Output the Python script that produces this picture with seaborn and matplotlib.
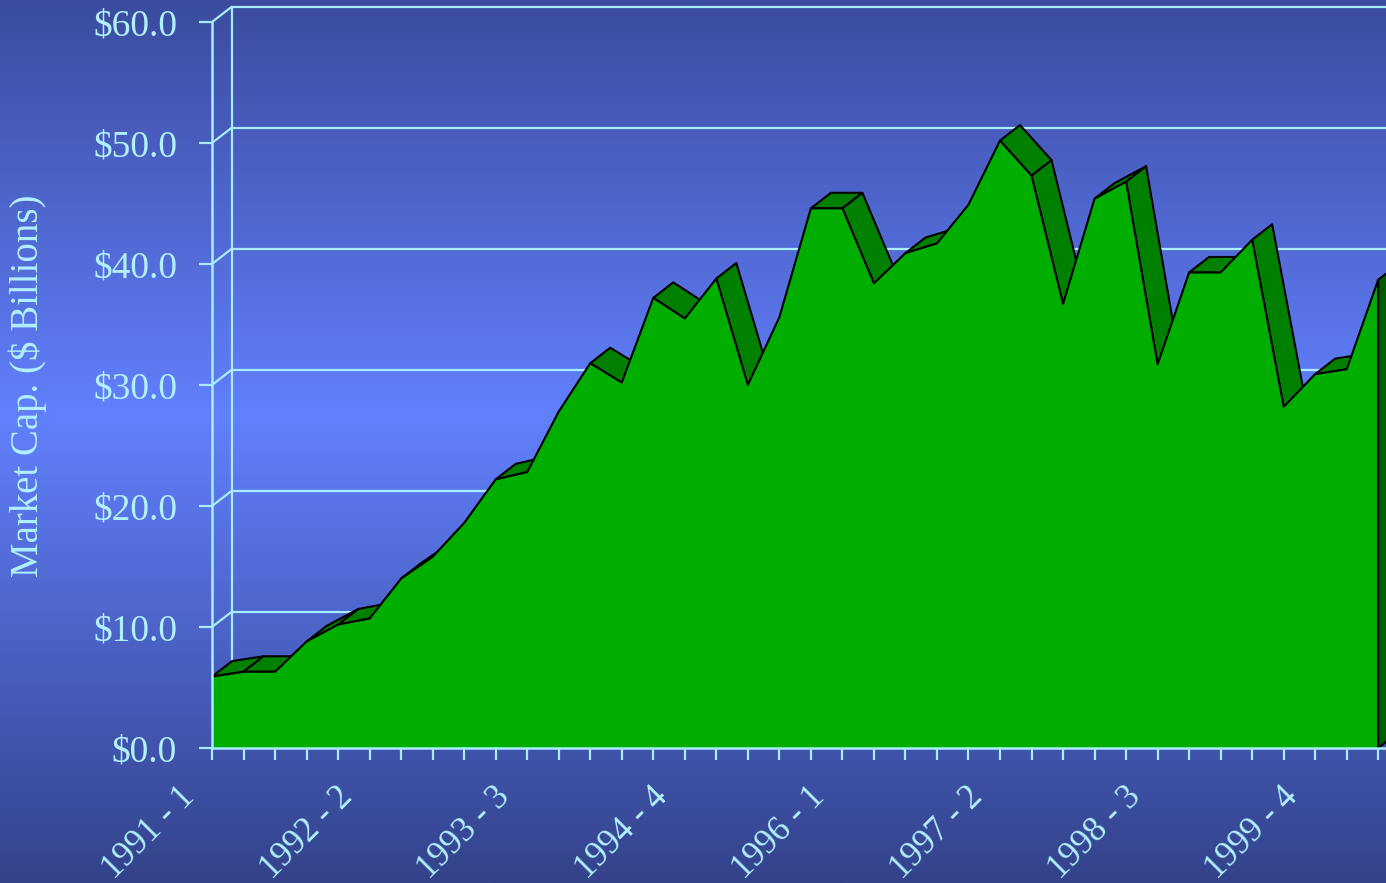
import numpy as np
import matplotlib
matplotlib.use("Agg")
import matplotlib.pyplot as plt
import matplotlib.transforms as mtransforms
from matplotlib.colors import LinearSegmentedColormap
import seaborn as sns

# Quarterly market capitalisation, $ billions (1991 Q1 .. 2000 Q2)
years = [1991, 1992, 1993, 1994, 1995, 1996, 1997, 1998, 1999, 2000]
quarters_per_year = 4
market_cap = [5.9, 6.3, 6.3, 8.8, 10.2, 10.7, 14.0, 15.8, 18.6, 22.2,
              22.8, 27.8, 31.8, 30.2, 37.2, 35.5, 38.8, 30.0, 35.6, 44.6,
              44.6, 38.4, 40.9, 41.7, 44.9, 50.2, 47.3, 36.7, 45.4, 46.8,
              31.7, 39.3, 39.3, 42.0, 28.2, 30.9, 31.3, 38.7]
y_ticks = [0, 10, 20, 30, 40, 50, 60]
label_every = 5

n = len(market_cap)
categories = [f"{years[i // quarters_per_year]} - {i % quarters_per_year + 1}" for i in range(n)]
idx = np.arange(n)
vals = np.array(market_cap, dtype=float)

# ---- style ----
sns.set_theme(style="ticks")
plt.rcParams["font.family"] = ["Liberation Serif", "DejaVu Serif"]
TXT = "#b0f0ff"
LINE = "#a8ecff"
FRONT = "#00ae00"
TOP = "#008000"
SIDE = "#005c00"

W, H, DPI = 1386, 883, 100
fig = plt.figure(figsize=(W / DPI, H / DPI), dpi=DPI)

# background gradient
bg = fig.add_axes([0, 0, 1, 1], zorder=-10)
cmap = LinearSegmentedColormap.from_list(
    "bg", [(0.0, "#3b4c9e"), (0.47, "#6280fd"), (1.0, "#33428a")])
grad = np.linspace(0, 1, 512).reshape(-1, 1)
bg.imshow(grad, aspect="auto", cmap=cmap, extent=[0, 1, 0, 1], origin="upper")
bg.set_axis_off()

# plotting area in pixels
x0_px, y0_px = 212, 748          # origin (value 0 of first quarter)
px_per_cat, px_per_unit = 31.52, 12.1
ax = fig.add_axes([x0_px / W, (H - y0_px) / H, (W - x0_px) / W, y0_px / H])
ax.set_facecolor("none")
ax.set_xlim(0, (W - x0_px) / px_per_cat)
ax.set_ylim(0, y0_px / px_per_unit)

# depth offset of the 3-D box, in data units
dx = 20 / px_per_cat
dy = 15.5 / px_per_unit
xmax = ax.get_xlim()[1] + 2

# back wall, side wall and gridlines
ax.plot([dx, dx], [dy, y_ticks[-1] + dy], color=LINE, lw=1.6, zorder=1)
for t in y_ticks:
    ax.plot([0, dx], [t, t + dy], color=LINE, lw=1.6, zorder=1, solid_capstyle="butt")
    if t > 0:
        ax.plot([dx, xmax], [t + dy, t + dy], color=LINE, lw=1.6, zorder=1)

# top surface strips (only those facing the viewer)
slope_limit = dy / dx
for i in range(n - 1):
    if vals[i + 1] - vals[i] < slope_limit:
        xs = [idx[i], idx[i + 1], idx[i + 1] + dx, idx[i] + dx]
        ys = [vals[i], vals[i + 1], vals[i + 1] + dy, vals[i] + dy]
        ax.fill(xs, ys, facecolor=TOP, edgecolor="black", lw=1.5, zorder=2 + i * 1e-3,
                joinstyle="round")

# right end cap
ax.fill([idx[-1], idx[-1], idx[-1] + dx, idx[-1] + dx],
        [0, vals[-1], vals[-1] + dy, dy],
        facecolor=SIDE, edgecolor="black", lw=1.5, zorder=2.5)

# front face
ax.fill_between(idx, 0, vals, facecolor=FRONT, edgecolor="none", zorder=3)
sns.lineplot(x=idx, y=vals, ax=ax, color="black", lw=1.5, zorder=4)
ax.plot([idx[-1], idx[-1]], [0, vals[-1]], color="black", lw=1.5, zorder=4)

# axes lines and ticks
for s in ["top", "right"]:
    ax.spines[s].set_visible(False)
for s in ["left", "bottom"]:
    ax.spines[s].set_visible(True)
    ax.spines[s].set_color(LINE)
    ax.spines[s].set_linewidth(1.8)
    ax.spines[s].set_zorder(10)
ax.spines["left"].set_bounds(0, y_ticks[-1])
ax.grid(False)

ax.set_yticks(y_ticks, labels=[f"${t:.1f}" for t in y_ticks])
ax.tick_params(axis="y", which="major", left=True, direction="out",
               length=13 * 0.72, width=1.6, color=LINE, labelcolor=TXT,
               labelsize=27, pad=22 * 0.72)
ax.set_xticks(idx, labels=[c if i % label_every == 0 else "" for i, c in enumerate(categories)])
ax.tick_params(axis="x", which="major", bottom=True, direction="out",
               length=12 * 0.72, width=1.6, color=LINE, labelcolor=TXT,
               labelsize=25, pad=0)
shift = mtransforms.ScaledTranslation(-22 / DPI, -32 / DPI, fig.dpi_scale_trans)
for lbl in ax.get_xticklabels():
    lbl.set_rotation(45)
    lbl.set_ha("right")
    lbl.set_va("center")
    lbl.set_rotation_mode("anchor")
    lbl.set_transform(lbl.get_transform() + shift)
ax.set_xlabel("")
ax.set_ylabel("")

fig.text(28 / W, 1 - 386 / H, "Market Cap. ($ Billions)", rotation=90,
         ha="center", va="center", color=TXT, fontsize=28)

fig.savefig("out.png", dpi=DPI)
